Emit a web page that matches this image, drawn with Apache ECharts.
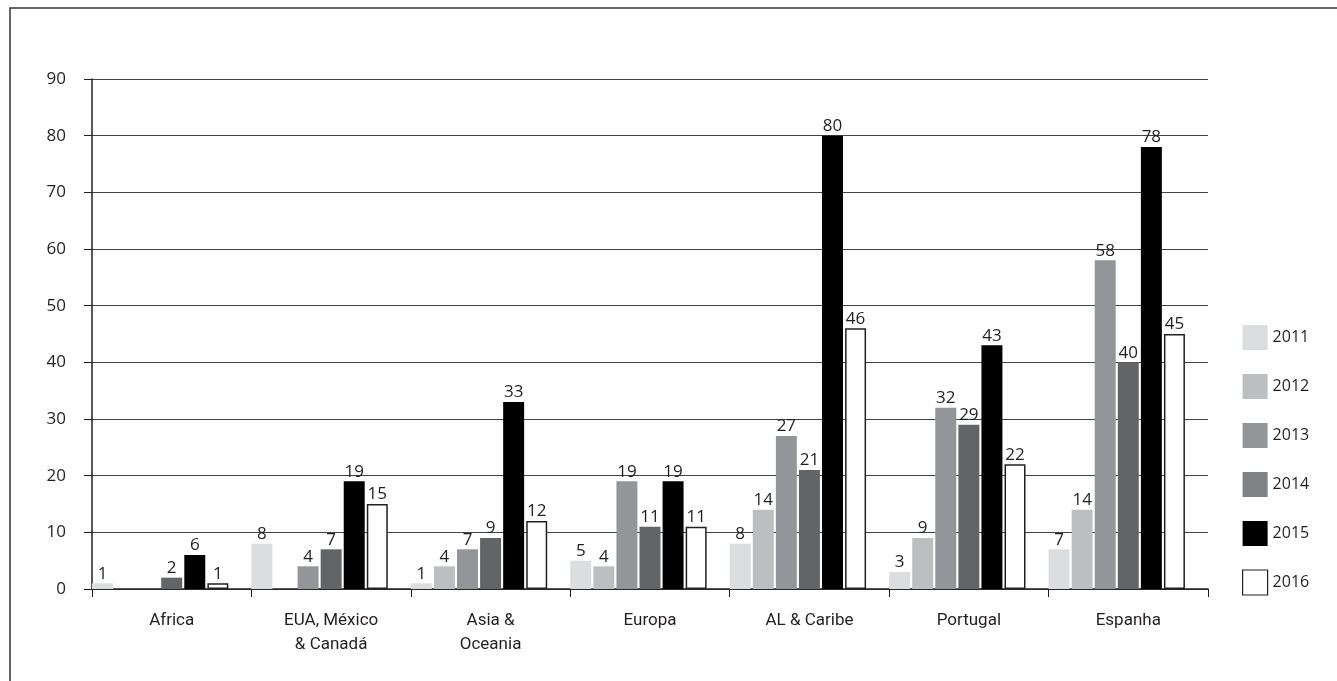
<!DOCTYPE html>
<html>
<head>
<meta charset="utf-8">
<script src="https://cdn.jsdelivr.net/npm/echarts@6/dist/echarts.min.js"></script>
<style>
html,body{margin:0;padding:0;background:#fff;}
#chart{width:1337px;height:681px;}
</style>
</head>
<body>
<div id="chart"></div>
<script>
const categories = ['Africa', 'EUA, México\n& Canadá', 'Asia &\nOceania', 'Europa', 'AL & Caribe', 'Portugal', 'Espanha'];
const years = ['2011', '2012', '2013', '2014', '2015', '2016'];
const v2011 = [1, 8, 1, 5, 8, 3, 7];
const v2012 = [null, null, 4, 4, 14, 9, 14];
const v2013 = [null, 4, 7, 19, 27, 32, 58];
const v2014 = [2, 7, 9, 11, 21, 29, 40];
const v2015 = [6, 19, 33, 19, 80, 43, 78];
const v2016 = [1, 15, 12, 11, 46, 22, 45];
const yTicks = [0, 10, 20, 30, 40, 50, 60, 70, 80, 90];

const seriesValues = [v2011, v2012, v2013, v2014, v2015, v2016];
const barColors = ['#dcdddf', '#bdbec0', '#939598', '#636466', '#000000', '#ffffff'];
const legendColors = ['#dcdddf', '#bdbec0', '#939598', '#808285', '#000000', '#ffffff'];
const numFont = "'Open Sans', 'Noto Sans', sans-serif";
const catFont = "'Roboto', 'Liberation Sans', sans-serif";
const ink = '#231f20';

const chart = echarts.init(document.getElementById('chart'), null, {renderer: 'canvas'});

const series = years.map((y, i) => ({
  name: y,
  type: 'bar',
  data: seriesValues[i],
  barGap: '10%',
  barCategoryGap: '0%',
  itemStyle: i === 5
    ? {color: '#ffffff', borderColor: ink, borderWidth: 1.5}
    : {color: barColors[i]},
  label: {
    show: true,
    position: 'top',
    distance: 1,
    color: ink,
    fontFamily: numFont,
    fontSize: 17
  },
  emphasis: {disabled: true}
}));
// empty seventh slot present in the original grouping
series.push({
  name: '_',
  type: 'bar',
  data: categories.map(() => null),
  barGap: '10%',
  barCategoryGap: '0%',
  silent: true
});

chart.setOption({
  animation: false,
  backgroundColor: '#ffffff',
  graphic: [{
    type: 'rect',
    shape: {x: 10, y: 8, width: 1400, height: 720},
    style: {fill: 'none', stroke: '#333', lineWidth: 1.5},
    silent: true
  }],
  grid: {left: 92, right: 129, top: 79, bottom: 92, containLabel: false},
  legend: {
    orient: 'vertical',
    left: 1237,
    top: 317,
    itemWidth: 25,
    itemHeight: 25,
    itemGap: 18,
    icon: 'rect',
    selectedMode: false,
    textStyle: {color: ink, fontFamily: numFont, fontSize: 16, lineHeight: 20, padding: [11, 0, 0, 0]},
    data: years.map((y, i) => ({
      name: y,
      itemStyle: i === 5
        ? {color: '#ffffff', borderColor: ink, borderWidth: 1.2}
        : {color: legendColors[i], borderWidth: 0}
    }))
  },
  xAxis: {
    type: 'category',
    data: categories,
    boundaryGap: true,
    axisLine: {show: true, lineStyle: {color: ink, width: 1.5}},
    axisTick: {show: true, interval: 0, length: 8, lineStyle: {color: ink, width: 1}},
    axisLabel: {
      interval: 0,
      margin: 20,
      color: ink,
      fontFamily: catFont,
      fontSize: 17,
      lineHeight: 24
    },
    splitLine: {show: false}
  },
  yAxis: {
    type: 'value',
    min: yTicks[0],
    max: yTicks[yTicks.length - 1],
    interval: 10,
    axisLine: {show: true, lineStyle: {color: ink, width: 1.5}},
    axisTick: {show: true, length: 8, lineStyle: {color: ink, width: 1}},
    axisLabel: {
      margin: 26,
      color: ink,
      fontFamily: numFont,
      fontSize: 17
    },
    splitLine: {show: true, lineStyle: {color: '#444', width: 1.2}}
  },
  series: series
});
</script>
</body>
</html>
